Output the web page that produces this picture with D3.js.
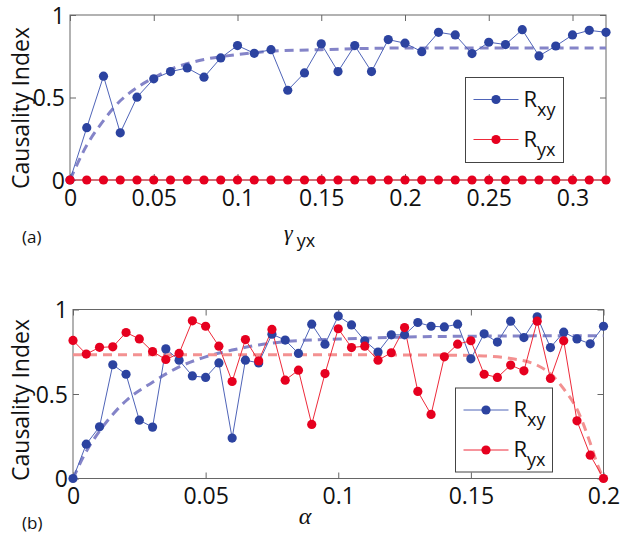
<!DOCTYPE html>
<html><head><meta charset="utf-8">
<script src="https://cdn.jsdelivr.net/npm/d3@7"></script>
<style>
body{margin:0;background:#fff}
text{font-family:"Open Sans",sans-serif;fill:#111}
</style>
</head><body>
<svg id="c" width="622" height="542"></svg>
<script>
// ---------- Data ----------
const gammaX = [0,0.01,0.02,0.03,0.04,0.05,0.06,0.07,0.08,0.09,0.10,0.11,0.12,0.13,0.14,0.15,0.16,0.17,0.18,0.19,0.20,0.21,0.22,0.23,0.24,0.25,0.26,0.27,0.28,0.29,0.30,0.31,0.32];
const topRxy = [0,0.317,0.629,0.286,0.502,0.613,0.657,0.679,0.623,0.740,0.815,0.768,0.790,0.544,0.649,0.825,0.657,0.815,0.657,0.851,0.829,0.778,0.895,0.879,0.766,0.835,0.821,0.911,0.752,0.812,0.879,0.907,0.895];
const topRyx = [0,0,0,0,0,0,0,0,0,0,0,0,0,0,0,0,0,0,0,0,0,0,0,0,0,0,0,0,0,0,0,0,0];
const topFitX = [0,0.01,0.02,0.03,0.04,0.05,0.06,0.08,0.10,0.12,0.15,0.20,0.25,0.32];
const topFitRxy = [0,0.21,0.36,0.48,0.56,0.62,0.67,0.73,0.76,0.78,0.79,0.80,0.80,0.80];
const topXTicks = [0,0.05,0.1,0.15,0.2,0.25,0.3];

const alphaX = [0,0.005,0.01,0.015,0.02,0.025,0.03,0.035,0.04,0.045,0.05,0.055,0.06,0.065,0.07,0.075,0.08,0.085,0.09,0.095,0.1,0.105,0.11,0.115,0.12,0.125,0.13,0.135,0.14,0.145,0.15,0.155,0.16,0.165,0.17,0.175,0.18,0.185,0.19,0.195,0.2];
const botRxy = [0,0.203,0.306,0.673,0.617,0.345,0.304,0.767,0.700,0.607,0.598,0.684,0.239,0.700,0.684,0.854,0.819,0.740,0.913,0.795,0.961,0.909,0.815,0.748,0.850,0.850,0.923,0.901,0.897,0.913,0.708,0.856,0.807,0.931,0.834,0.957,0.775,0.866,0.826,0.797,0.901];
const botRyx = [0.817,0.736,0.776,0.779,0.864,0.826,0.751,0.704,0.740,0.933,0.901,0.783,0.574,0.822,0.696,0.882,0.582,0.641,0.320,0.621,0.886,0.775,0.783,0.700,0.744,0.893,0.515,0.379,0.720,0.795,0.815,0.617,0.598,0.671,0.637,0.931,0.592,0.815,0.341,0.138,0];
const botFitXyX = [0,0.005,0.01,0.02,0.03,0.04,0.05,0.06,0.07,0.08,0.1,0.12,0.15,0.2];
const botFitRxy = [0,0.16,0.28,0.46,0.57,0.66,0.72,0.76,0.79,0.81,0.825,0.835,0.842,0.845];
const botFitYxX = [0,0.05,0.1,0.14,0.155,0.165,0.175,0.18,0.185,0.19,0.195,0.198,0.2];
const botFitRyx = [0.732,0.732,0.732,0.73,0.725,0.71,0.67,0.62,0.53,0.41,0.21,0.07,0];
const botXTicks = [0,0.05,0.1,0.15,0.2];
const yTicks = [0,0.5,1];

// ---------- Style ----------
const BLUE_DOT = "#2c43a0", BLUE_LINE = "#4f64b8", BLUE_FIT = "#8484c8";
const RED_DOT = "#e6001f", RED_LINE = "#ee2a3a", RED_FIT = "#f39191";

const svg = d3.select("#c");

function panel(o){
  const x = d3.scaleLinear().domain(o.xDomain).range([o.left,o.right]);
  const y = d3.scaleLinear().domain([0,1]).range([o.bottom,o.top]);
  const g = svg.append("g");
  g.append("rect").attr("x",o.left).attr("y",o.top)
   .attr("width",o.right-o.left).attr("height",o.bottom-o.top)
   .attr("fill","none").attr("stroke","#666").attr("stroke-width",1);
  const fmt = d => d3.format("~g")(d);
  const ax = g.append("g").attr("transform",`translate(0,${o.bottom})`)
    .call(d3.axisBottom(x).tickValues(o.xTicks).tickSize(-6).tickPadding(10).tickFormat(fmt));
  const axT = g.append("g").attr("transform",`translate(0,${o.top})`)
    .call(d3.axisTop(x).tickValues(o.xTicks).tickSize(-6).tickFormat(""));
  const ay = g.append("g").attr("transform",`translate(${o.left},0)`)
    .call(d3.axisLeft(y).tickValues(yTicks).tickSize(-6).tickPadding(5).tickFormat(fmt));
  const ayR = g.append("g").attr("transform",`translate(${o.right},0)`)
    .call(d3.axisRight(y).tickValues(yTicks).tickSize(-6).tickFormat(""));
  [ax,axT,ay,ayR].forEach(a=>{
    a.select(".domain").remove();
    a.selectAll(".tick line").attr("stroke","#666");
    a.selectAll("text").style("font-size","23px").attr("fill","#111");
  });
  ax.selectAll("text").attr("dy","0.68em");
  ay.selectAll("text").attr("dy","0.36em");

  const line = d3.line().x(d=>x(d[0])).y(d=>y(d[1]));
  const fitLine = d3.line().x(d=>x(d[0])).y(d=>y(d[1])).curve(d3.curveMonotoneX);
  o.fits.forEach(f=>{
    g.append("path").datum(d3.zip(f.x,f.y)).attr("d",fitLine)
     .attr("fill","none").attr("stroke",f.color).attr("stroke-width",3)
     .attr("stroke-dasharray","9,6");
  });
  o.series.forEach(s=>{
    g.append("path").datum(d3.zip(o.xs,s.y)).attr("d",line).attr("fill","none")
     .attr("stroke",s.line).attr("stroke-width",1);
  });
  o.series.forEach(s=>{
    g.selectAll(null).data(d3.zip(o.xs,s.y)).join("circle")
     .attr("cx",d=>x(d[0])).attr("cy",d=>y(d[1])).attr("r",4.6).attr("fill",s.dot);
  });
  const L = o.legend;
  g.append("rect").attr("x",L.x).attr("y",L.y).attr("width",L.w).attr("height",L.h)
   .attr("fill","#fff").attr("stroke","#444").attr("stroke-width",1);
  o.series.forEach((s,i)=>{
    const cy = L.y + 22 + i*40;
    g.append("line").attr("x1",L.x+8).attr("x2",L.x+53).attr("y1",cy).attr("y2",cy)
     .attr("stroke",s.line).attr("stroke-width",1);
    g.append("circle").attr("cx",L.x+30.5).attr("cy",cy).attr("r",4.6).attr("fill",s.dot);
    const t = g.append("text").attr("x",L.x+58).attr("y",cy+7).style("font-size","22px");
    t.append("tspan").text("R");
    t.append("tspan").attr("dy",9).style("font-size","18px").text(s.sub);
  });
  g.append("text").attr("transform",`translate(${o.ylabX},${o.ylabY}) rotate(-90)`)
   .attr("text-anchor","middle").attr("dy","0.35em").style("font-size","23px").text("Causality Index");
  return {x,y};
}

panel({
  xDomain:[0,0.32], left:70, right:606, top:15, bottom:180,
  xTicks: topXTicks, xs: gammaX,
  series:[{y:topRxy,dot:BLUE_DOT,line:BLUE_LINE,sub:"xy"},{y:topRyx,dot:RED_DOT,line:RED_LINE,sub:"yx"}],
  fits:[{x:topFitX,y:topFitRxy,color:BLUE_FIT}],
  legend:{x:465.5,y:77.5,w:98,h:85},
  ylabX:21, ylabY:108
});
panel({
  xDomain:[0,0.2], left:73, right:603.5, top:309.5, bottom:478.5,
  xTicks: botXTicks, xs: alphaX,
  series:[{y:botRxy,dot:BLUE_DOT,line:BLUE_LINE,sub:"xy"},{y:botRyx,dot:RED_DOT,line:RED_LINE,sub:"yx"}],
  fits:[{x:botFitXyX,y:botFitRxy,color:BLUE_FIT},{x:botFitYxX,y:botFitRyx,color:RED_FIT}],
  legend:{x:455.5,y:388,w:97,h:84},
  ylabX:21, ylabY:400
});

const gl = svg.append("text").attr("x",284).attr("y",240);
gl.append("tspan").style("font-family","'Liberation Serif',serif").style("font-style","italic").style("font-size","22px").text("γ");
gl.append("tspan").attr("dx",4).attr("dy",7).style("font-size","18px").text("yx");
svg.append("text").attr("x",305).attr("y",524).attr("text-anchor","middle")
  .style("font-family","'Liberation Serif',serif").style("font-style","italic").style("font-size","24px").text("α");
svg.append("text").attr("x",22).attr("y",243).style("font-size","17px").text("(a)");
svg.append("text").attr("x",22).attr("y",529).style("font-size","17px").text("(b)");
</script>
</body></html>
